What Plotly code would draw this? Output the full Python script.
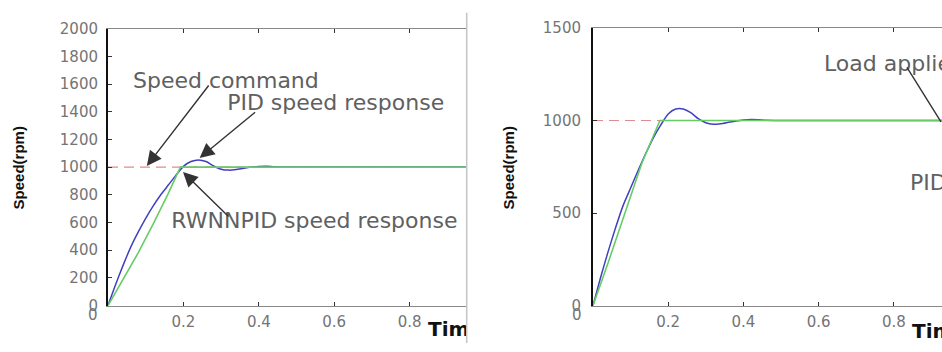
import plotly.graph_objects as go

W, H = 942, 352

# ---- left panel: step to 1000 rpm, no load ----
t_left = [0, 0.02, 0.04, 0.06, 0.08, 0.10, 0.12, 0.14, 0.16, 0.18, 0.20, 0.22, 0.24,
          0.26, 0.28, 0.30, 0.32, 0.34, 0.36, 0.38, 0.40, 0.42, 0.44, 0.46, 0.50, 0.95]
pid_left = [0, 150, 290, 420, 530, 630, 720, 800, 870, 940, 1005, 1040, 1052,
            1040, 1008, 985, 978, 982, 992, 1000, 1004, 1006, 1002, 1000, 1000, 1000]
t_rwnn_left = [0, 0.04, 0.08, 0.12, 0.16, 0.192, 0.95]
rwnn_left = [0, 185, 380, 590, 810, 1000, 1000]
t_cmd_left = [0, 0.95]
cmd_left = [1000, 1000]

# ---- right panel: step to 1000 rpm, load applied later ----
t_right = [0, 0.02, 0.04, 0.06, 0.08, 0.10, 0.12, 0.14, 0.16, 0.18, 0.20, 0.22, 0.24,
           0.26, 0.28, 0.30, 0.32, 0.34, 0.36, 0.38, 0.40, 0.42, 0.44, 0.46, 0.50, 0.93]
pid_right = [0, 150, 290, 420, 540, 635, 730, 820, 905, 975, 1035, 1062, 1062,
             1042, 1010, 988, 980, 983, 990, 997, 1002, 1005, 1004, 1001, 1000, 1000]
t_rwnn_right = [0, 0.02, 0.04, 0.085, 0.13, 0.178, 0.93]
rwnn_right = [0, 110, 230, 500, 770, 1000, 1000]
t_cmd_right = [0, 0.93]
cmd_right = [1000, 1000]

x_ticks = [0.2, 0.4, 0.6, 0.8]
x_ticktext = ["0.2", "0.4", "0.6", "0.8"]
y_ticks_left = list(range(0, 2001, 200))
y_ticks_right = [0, 500, 1000, 1500]

CMD_COLOR = "#e08c8c"
PID_COLOR = "#4040c0"
RWNN_COLOR = "#66cc66"
LABEL_COLOR = "#606060"
TICK_FONT = dict(family="DejaVu Sans", size=15, color="#747474")
NOTE_FONT = dict(family="DejaVu Sans", size=22, color=LABEL_COLOR)


def px(x):
    return x / W


def py(y):
    return 1 - y / H


fig = go.Figure()

for xa, ya, tc, c, tp, p, tr, r in [
    ("x", "y", t_cmd_left, cmd_left, t_left, pid_left, t_rwnn_left, rwnn_left),
    ("x2", "y2", t_cmd_right, cmd_right, t_right, pid_right, t_rwnn_right, rwnn_right),
]:
    fig.add_trace(go.Scatter(x=tc, y=c, xaxis=xa, yaxis=ya, mode="lines",
                             line=dict(color=CMD_COLOR, width=1.2, dash="10px,6px"),
                             name="Speed command", hoverinfo="skip"))
    fig.add_trace(go.Scatter(x=tp, y=p, xaxis=xa, yaxis=ya, mode="lines",
                             line=dict(color=PID_COLOR, width=1.5, shape="spline", smoothing=0.6),
                             name="PID speed response", hoverinfo="skip"))
    fig.add_trace(go.Scatter(x=tr, y=r, xaxis=xa, yaxis=ya, mode="lines",
                             line=dict(color=RWNN_COLOR, width=1.6),
                             name="RWNNPID speed response", hoverinfo="skip"))

# labels inside the left panel, clipped at its right edge
fig.add_trace(go.Scatter(
    x=[0.316, 0.168], y=[1449, 599], xaxis="x", yaxis="y", mode="text",
    text=["PID speed response", "RWNNPID speed response"],
    textposition="middle right", textfont=NOTE_FONT, cliponaxis=True, hoverinfo="skip"))

# x-axis title of the left panel, clipped by a helper pixel-space subplot
fig.add_trace(go.Scatter(
    x=[428], y=[339], xaxis="x3", yaxis="y3", mode="text", text=["<b>Time(s)</b>"],
    textposition="middle right",
    textfont=dict(family="DejaVu Sans", size=20, color="#111"),
    cliponaxis=True, hoverinfo="skip"))

common = dict(showgrid=False, zeroline=False, ticks="inside", ticklen=4, tickcolor="#333",
              tickwidth=1, tickfont=TICK_FONT, fixedrange=True, showline=True)

fig.update_layout(
    width=W, height=H, margin=dict(l=0, r=0, t=0, b=0),
    paper_bgcolor="white", plot_bgcolor="rgba(0,0,0,0)", showlegend=False,
    xaxis=dict(domain=[px(108), px(465.5)], range=[0, 357.5 / 377], anchor="y",
               tickvals=x_ticks, ticktext=x_ticktext, linecolor="#888", linewidth=1,
               mirror="allticks", ticklabelstandoff=2, **common),
    yaxis=dict(domain=[py(312.5), py(20.7)], range=[0, 2000], anchor="x",
               tickvals=y_ticks_left, linecolor="#111", linewidth=2,
               ticklabelstandoff=5, **common),
    xaxis2=dict(domain=[px(593), 1], range=[0, 349 / 376], anchor="y2",
                tickvals=x_ticks, ticktext=x_ticktext, linecolor="#888", linewidth=1,
                mirror="allticks", ticklabelstandoff=2, **common),
    yaxis2=dict(domain=[py(312.5), py(20)], range=[0, 1500], anchor="x2",
                tickvals=y_ticks_right, linecolor="#111", linewidth=2,
                ticklabelstandoff=7, **common),
    xaxis3=dict(domain=[0, px(466)], range=[0, 466], visible=False, fixedrange=True, anchor="y3"),
    yaxis3=dict(domain=[0, 1], range=[352, 0], visible=False, fixedrange=True, anchor="x3"),
)

# divider between the two panels
fig.add_shape(type="line", xref="paper", yref="paper", x0=px(466.7), x1=px(466.7),
              y0=py(4), y1=0, line=dict(color="#c4c4c4", width=1.5))

ann = []
# axis titles
for xc in (18, 508):
    ann.append(dict(text="Speed(rpm)", textangle=-90, xref="paper", yref="paper",
                    x=px(xc), y=py(168), xanchor="center", yanchor="middle", showarrow=False,
                    font=dict(family="Liberation Sans", size=15, color="#111", weight="bold")))
ann.append(dict(text="<b>Time(s)</b>", xref="paper", yref="paper", x=px(910), y=py(339),
                xanchor="left", yanchor="middle", showarrow=False,
                font=dict(family="DejaVu Sans", size=20, color="#111")))
# the origin "0" of each time axis sits under the speed "0"
for xc in (93, 577):
    ann.append(dict(text="0", xref="paper", yref="paper", x=px(xc), y=py(323),
                    xanchor="center", yanchor="middle", showarrow=False, font=TICK_FONT))
# text notes
ann.append(dict(text="Speed command", xref="paper", yref="paper", x=px(131), y=py(75),
                xanchor="left", yanchor="middle", showarrow=False, font=NOTE_FONT))
ann.append(dict(text="Load applied", xref="paper", yref="paper", x=px(822), y=py(57),
                xanchor="left", yanchor="middle", showarrow=False, font=NOTE_FONT))
ann.append(dict(text="PID speed response", xref="paper", yref="paper", x=px(908), y=py(183),
                xanchor="left", yanchor="middle", showarrow=False, font=NOTE_FONT))
# arrows
arrow = dict(text="", showarrow=True, arrowhead=2, arrowsize=2.1, arrowwidth=1.4,
             arrowcolor="#333333", standoff=0)
ann.append(dict(xref="x", yref="y", x=0.103, y=1008, ax=63, ay=-82, **arrow))
ann.append(dict(xref="x", yref="y", x=0.243, y=1066, ax=57, ay=-47, **arrow))
ann.append(dict(xref="x", yref="y", x=0.199, y=964, ax=47, ay=46, **arrow))
ann.append(dict(xref="paper", yref="paper", x=px(969), y=py(119), ax=-63, ay=-56,
                **dict(arrow, arrowhead=0)))
fig.update_layout(annotations=ann)

fig.write_html("out.html", config={"displayModeBar": False})
